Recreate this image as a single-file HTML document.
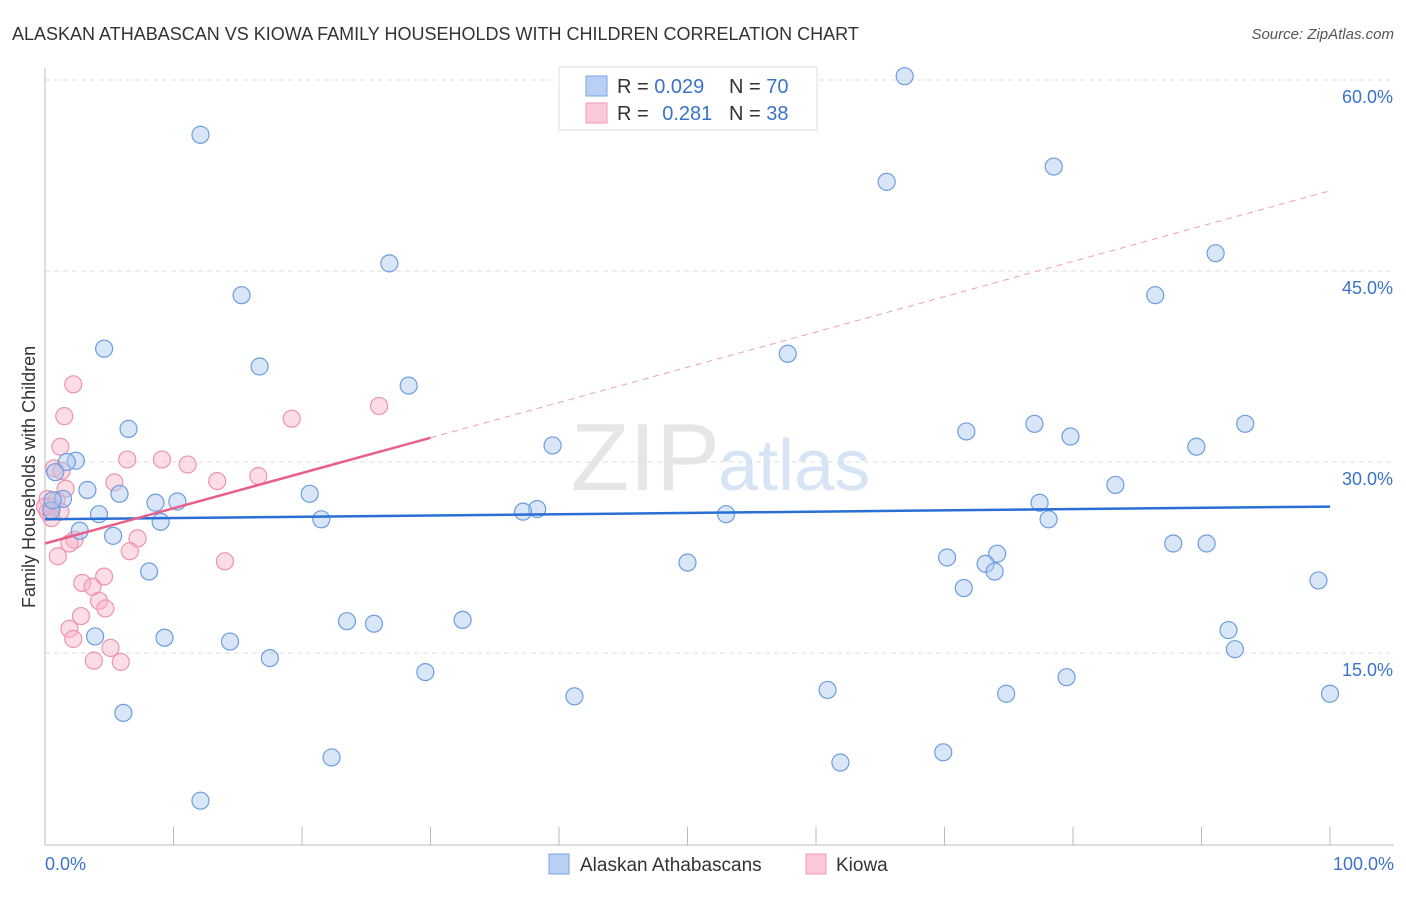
<!DOCTYPE html>
<html><head><meta charset="utf-8"><style>
body{margin:0;background:#fff;font-family:"Liberation Sans",sans-serif}
svg text{font-family:"Liberation Sans",sans-serif}
</style></head><body>
<svg id="chart" width="1406" height="892" xmlns="http://www.w3.org/2000/svg">
<text x="12" y="40" font-size="18" fill="#333">ALASKAN ATHABASCAN VS KIOWA FAMILY HOUSEHOLDS WITH CHILDREN CORRELATION CHART</text>
<text x="1394" y="39" font-size="15" fill="#555" font-style="italic" text-anchor="end">Source: ZipAtlas.com</text>
<text x="720" y="490" font-size="96" fill="#e6e6e6" text-anchor="end" font-family="Liberation Serif">ZIP</text>
<text x="718" y="490" font-size="72" fill="#d6e4f5">atlas</text>
<g id="grid"></g>
<line x1="45" y1="68" x2="45" y2="845" stroke="#bbb"/>
<line x1="45" y1="845" x2="1394" y2="845" stroke="#bbb"/>
<g id="xticks"></g>
<text x="35" y="608" font-size="18" fill="#333" transform="rotate(-90 35 608)" text-anchor="start">Family Households with Children</text>
<text x="45" y="870" font-size="18" fill="#3a73c8">0.0%</text>
<text x="1394" y="870" font-size="18" fill="#3a73c8" text-anchor="end">100.0%</text>
<g id="points"></g>
<g id="lines"></g>
<g>
<rect x="559" y="67" width="258" height="63" fill="#fff" stroke="#ddd"/>
<rect x="586" y="76" width="21" height="20" fill="#b7d0f3" stroke="#7aa6e6"/>
<rect x="586" y="103" width="21" height="20" fill="#fbc8d7" stroke="#f09ab4"/>
<text x="617" y="93" font-size="20" fill="#333">R = <tspan fill="#3a73c8">0.029</tspan></text>
<text x="729" y="93" font-size="20" fill="#333">N = <tspan fill="#3a73c8">70</tspan></text>
<text x="617" y="120" font-size="20" fill="#333">R = <tspan fill="#3a73c8" dx="8">0.281</tspan></text>
<text x="729" y="120" font-size="20" fill="#333">N = <tspan fill="#3a73c8">38</tspan></text>
</g>
<g>
<rect x="549" y="854" width="20" height="20" fill="#b7d0f3" stroke="#7aa6e6"/>
<text x="580" y="871" font-size="19" fill="#333">Alaskan Athabascans</text>
<rect x="806" y="854" width="20" height="20" fill="#fbc8d7" stroke="#f09ab4"/>
<text x="836" y="871" font-size="19" fill="#333">Kiowa</text>
</g>
</svg>
<script>
const yTicks=[15,30,45,60];
const yTickLabels=["15.0%","30.0%","45.0%","60.0%"];
const xTicks=[10,20,30,40,50,60,70,80,90,100];
const blueX=[12.1,66.9,78.5,65.5,26.8,91.1,15.3,86.4,4.6,57.8,16.7,28.3,6.5,71.7,77,93.4,79.8,39.5,89.6,2.4,1.7,0.8,83.3,3.3,1.4,5.8,20.6,8.6,10.3,77.4,4.2,38.3,37.2,53,78.1,21.5,9.0,2.7,5.3,70.2,50,74.1,87.8,90.4,73.2,73.9,8.1,99.1,71.5,23.5,25.6,32.5,92.1,3.9,9.3,14.4,92.6,17.5,29.6,79.5,60.9,41.2,74.8,100,6.1,69.9,22.3,61.9,12.1,0.5,0.6];
const blueY=[55.7,60.3,53.2,52.0,45.6,46.4,43.1,43.1,38.9,38.5,37.5,36.0,32.6,32.4,33.0,33.0,32.0,31.3,31.2,30.1,30.0,29.2,28.2,27.8,27.1,27.5,27.5,26.8,26.9,26.8,25.9,26.3,26.1,25.9,25.5,25.5,25.3,24.6,24.2,22.5,22.1,22.8,23.6,23.6,22.0,21.4,21.4,20.7,20.1,17.5,17.3,17.6,16.8,16.3,16.2,15.9,15.3,14.6,13.5,13.1,12.1,11.6,11.8,11.8,10.3,7.2,6.8,6.4,3.4,26.2,27.0];
const pinkX=[2.2,1.5,19.2,26,1.2,9.1,6.4,11.1,16.6,0.7,1.6,13.4,5.4,0.9,1.2,0.5,0.2,7.2,2.3,1.9,6.6,1.0,14,4.6,2.9,3.7,4.2,4.7,2.8,1.9,2.2,5.1,3.8,5.9,0.2,1.3,0.5,0];
const pinkY=[36.1,33.6,33.4,34.4,31.2,30.2,30.2,29.8,28.9,29.5,27.9,28.5,28.4,27.0,26.1,26.5,26.1,24.0,23.9,23.6,23.0,22.6,22.2,21.0,20.5,20.2,19.1,18.5,17.9,16.9,16.1,15.4,14.4,14.3,27.1,29.3,25.6,26.5];
const blueTrend=[25.5,26.5];
const pinkTrend=[23.6,31.9,51.3]; // at x=0, 30, 100
const X=v=>45+v*12.85, Y=v=>844-v*(764/60);
const NS="http://www.w3.org/2000/svg";
function mk(tag,attrs,parent){const e=document.createElementNS(NS,tag);for(const k in attrs)e.setAttribute(k,attrs[k]);document.getElementById(parent).appendChild(e);return e;}
yTicks.forEach((t,i)=>{
const l=mk('line',{x1:45,x2:1394,y1:Y(t),y2:Y(t),stroke:'#ddd','stroke-dasharray':'5,4'},'grid');


const tx=mk('text',{x:1393,y:Y(t)+23,'font-size':18,fill:'#3a73c8','text-anchor':'end'},'grid');
tx.textContent=yTickLabels[i];


});
xTicks.forEach(t=>{
const l=mk('line',{x1:X(t),x2:X(t),y1:827,y2:845,stroke:'#bbb'},'xticks');


});
pinkX.forEach((v,i)=>{
const c=mk('circle',{cx:X(v),cy:Y(pinkY[i]),r:8.5,fill:'rgba(248,180,200,0.45)',stroke:'#ee93b0','stroke-width':1.2},'points');


});
blueX.forEach((v,i)=>{
const c=mk('circle',{cx:X(v),cy:Y(blueY[i]),r:8.5,fill:'rgba(170,200,240,0.45)',stroke:'#6c9de0','stroke-width':1.2},'points');


});
const bl=mk('line',{x1:X(0),y1:Y(blueTrend[0]),x2:X(100),y2:Y(blueTrend[1]),stroke:'#2a6fd6','stroke-width':2.5},'lines');


const pl=mk('line',{x1:X(0),y1:Y(pinkTrend[0]),x2:X(30),y2:Y(pinkTrend[1]),stroke:'#e8608a','stroke-width':2.5},'lines');


const pd=mk('line',{x1:X(30),y1:Y(pinkTrend[1]),x2:X(100),y2:Y(pinkTrend[2]),stroke:'#e8a0b6','stroke-width':1,'stroke-dasharray':'6,5'},'lines');


</script>
</body></html>
